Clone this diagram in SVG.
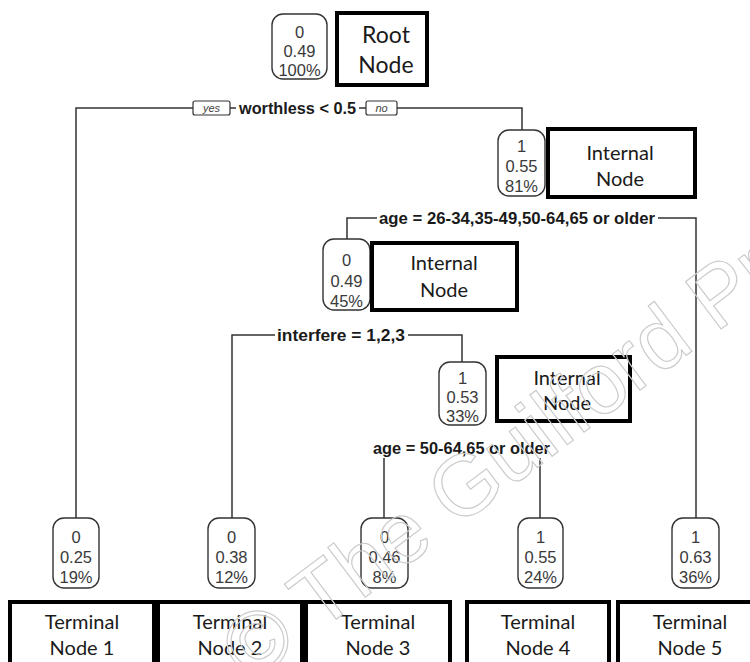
<svg xmlns="http://www.w3.org/2000/svg" width="750" height="662" viewBox="0 0 750 662">
<style>
.bg{fill:#ffffff}
.nb{fill:#ffffff;stroke:#333333;stroke-width:1.4}
.nt{font-family:"Liberation Sans",Arial,sans-serif;font-size:16.5px;fill:#3a3a3a;text-anchor:middle}
.ann{fill:#ffffff;stroke:#000000;stroke-width:4}
.at{font-family:Lato,"Liberation Sans",sans-serif;font-size:20px;fill:#1a1a1a;text-anchor:middle}
.cn{fill:none;stroke:#333333;stroke-width:1.5}
.lb{font-family:"Liberation Sans",Arial,sans-serif;font-size:16.5px;font-weight:bold;fill:#1a1a1a}
.lbg{fill:#ffffff}
.yn{fill:#ffffff;stroke:#333333;stroke-width:1.2}
.ynt{font-family:"Liberation Sans",Arial,sans-serif;font-size:11px;font-style:italic;fill:#444444;text-anchor:middle}
.wm{font-family:"Liberation Sans",Arial,sans-serif;font-size:86px;fill:none;stroke:#cccccc;stroke-width:1.2}
</style>
<rect class="bg" x="0" y="0" width="750" height="662"/>

<g id="connectors">
  <polyline class="cn" points="76,518 76,108 522,108 522,130"/>
  <polyline class="cn" points="347,239 347,218 696,218 696,518"/>
  <polyline class="cn" points="232,518 232,335 462,335 462,362"/>
  <polyline class="cn" points="384,518 384,448 540,448 540,518"/>
</g>

<g id="split-labels">
  <g id="split1">
    <rect class="lbg" x="236" y="99" width="123" height="18"/>
    <text class="lb" x="239" y="114" textLength="117" lengthAdjust="spacingAndGlyphs">worthless &lt; 0.5</text>
    <rect class="yn" x="193" y="101" width="37" height="14" rx="2"/>
    <text class="ynt" x="211.5" y="112">yes</text>
    <rect class="yn" x="366" y="101" width="31" height="14" rx="2"/>
    <text class="ynt" x="381.5" y="112">no</text>
  </g>
  <g id="split2">
    <rect class="lbg" x="377" y="209" width="281" height="18"/>
    <text class="lb" x="379" y="224" textLength="276" lengthAdjust="spacingAndGlyphs">age = 26-34,35-49,50-64,65 or older</text>
  </g>
  <g id="split3">
    <rect class="lbg" x="275" y="326" width="133" height="18"/>
    <text class="lb" x="277" y="341" textLength="128" lengthAdjust="spacingAndGlyphs">interfere = 1,2,3</text>
  </g>
  <g id="split4">
    <rect class="lbg" x="371" y="438" width="183" height="20"/>
    <text class="lb" x="373" y="454" textLength="177" lengthAdjust="spacingAndGlyphs">age = 50-64,65 or older</text>
  </g>
</g>

<g id="node-root">
  <rect class="nb" x="272" y="14" width="55" height="65" rx="11"/>
  <text class="nt" x="299.5" y="38">0</text>
  <text class="nt" x="299.5" y="57">0.49</text>
  <text class="nt" x="299.5" y="76">100%</text>
</g>
<g id="node-2">
  <rect class="nb" x="498" y="130" width="47" height="66" rx="11"/>
  <text class="nt" x="521.5" y="152">1</text>
  <text class="nt" x="521.5" y="172">0.55</text>
  <text class="nt" x="521.5" y="192">81%</text>
</g>
<g id="node-3">
  <rect class="nb" x="323" y="239" width="47" height="71" rx="11"/>
  <text class="nt" x="346.5" y="266">0</text>
  <text class="nt" x="346.5" y="287">0.49</text>
  <text class="nt" x="346.5" y="307">45%</text>
</g>
<g id="node-4">
  <rect class="nb" x="439" y="362" width="47" height="63" rx="11"/>
  <text class="nt" x="462.5" y="384">1</text>
  <text class="nt" x="462.5" y="403">0.53</text>
  <text class="nt" x="462.5" y="422">33%</text>
</g>
<g id="leaf-1">
  <rect class="nb" x="53" y="518" width="46" height="70" rx="11"/>
  <text class="nt" x="76" y="543">0</text>
  <text class="nt" x="76" y="563">0.25</text>
  <text class="nt" x="76" y="583">19%</text>
</g>
<g id="leaf-2">
  <rect class="nb" x="208" y="518" width="47" height="70" rx="11"/>
  <text class="nt" x="231.5" y="543">0</text>
  <text class="nt" x="231.5" y="563">0.38</text>
  <text class="nt" x="231.5" y="583">12%</text>
</g>
<g id="leaf-3">
  <rect class="nb" x="361" y="518" width="47" height="70" rx="11"/>
  <text class="nt" x="384.5" y="543">0</text>
  <text class="nt" x="384.5" y="563">0.46</text>
  <text class="nt" x="384.5" y="583">8%</text>
</g>
<g id="leaf-4">
  <rect class="nb" x="518" y="518" width="45" height="70" rx="11"/>
  <text class="nt" x="540.5" y="543">1</text>
  <text class="nt" x="540.5" y="563">0.55</text>
  <text class="nt" x="540.5" y="583">24%</text>
</g>
<g id="leaf-5">
  <rect class="nb" x="672" y="518" width="47" height="70" rx="11"/>
  <text class="nt" x="695.5" y="543">1</text>
  <text class="nt" x="695.5" y="563">0.63</text>
  <text class="nt" x="695.5" y="583">36%</text>
</g>

<g id="ann-root">
  <rect class="ann" x="337" y="13" width="90" height="72"/>
  <text class="at" x="386" y="43" style="font-size:23px">Root</text>
  <text class="at" x="386" y="73" style="font-size:23px">Node</text>
</g>
<g id="ann-internal-1">
  <rect class="ann" x="548" y="129" width="147" height="68"/>
  <text class="at" x="620" y="160">Internal</text>
  <text class="at" x="620" y="186">Node</text>
</g>
<g id="ann-internal-2">
  <rect class="ann" x="372" y="243" width="145" height="67"/>
  <text class="at" x="444" y="270">Internal</text>
  <text class="at" x="444" y="297">Node</text>
</g>
<g id="ann-internal-3">
  <rect class="ann" x="497" y="357" width="133" height="64"/>
  <text class="at" x="567" y="385">Internal</text>
  <text class="at" x="567" y="410">Node</text>
</g>
<g id="ann-terminal-1">
  <rect class="ann" x="10" y="602" width="144" height="70"/>
  <text class="at" x="82" y="629">Terminal</text>
  <text class="at" x="82" y="655">Node 1</text>
</g>
<g id="ann-terminal-2">
  <rect class="ann" x="158" y="602" width="144" height="70"/>
  <text class="at" x="230" y="629">Terminal</text>
  <text class="at" x="230" y="655">Node 2</text>
</g>
<g id="ann-terminal-3">
  <rect class="ann" x="306" y="602" width="144" height="70"/>
  <text class="at" x="378" y="629">Terminal</text>
  <text class="at" x="378" y="655">Node 3</text>
</g>
<g id="ann-terminal-4">
  <rect class="ann" x="467" y="602" width="142" height="70"/>
  <text class="at" x="538" y="629">Terminal</text>
  <text class="at" x="538" y="655">Node 4</text>
</g>
<g id="ann-terminal-5">
  <rect class="ann" x="618" y="602" width="144" height="70"/>
  <text class="at" x="690" y="629">Terminal</text>
  <text class="at" x="690" y="655">Node 5</text>
</g>

<text class="wm" x="0" y="0" transform="translate(250,684) rotate(-37)">© The Guilford Press</text>
</svg>
